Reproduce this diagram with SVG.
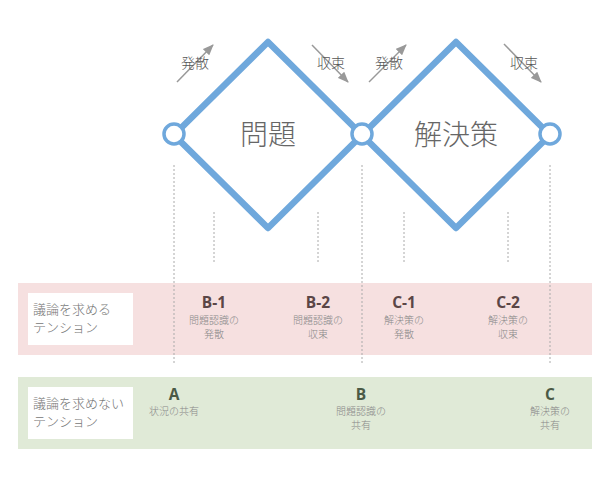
<svg xmlns="http://www.w3.org/2000/svg" width="610" height="486" viewBox="0 0 610 486">
<defs>
<marker id="ah" markerWidth="11" markerHeight="9" refX="10" refY="4.5" orient="auto" markerUnits="userSpaceOnUse">
<path d="M0,0 L11,4.5 L0,9 Z" fill="#999"/>
</marker>
<style>
.dia{fill:none;stroke:#6fa8dc;stroke-width:6.5;stroke-linejoin:round}
.node{fill:#fff;stroke:#6fa8dc;stroke-width:3.5}
.big{font-family:"Noto Sans CJK JP","Noto Sans",sans-serif;font-weight:300;font-size:28px;fill:#666;text-anchor:middle}
.arr{stroke:#999;stroke-width:1.5;fill:none;marker-end:url(#ah)}
.dir{font-family:"Noto Sans CJK JP",sans-serif;font-weight:300;font-size:14px;fill:#555;text-anchor:middle}
.dot{stroke:#aaa;stroke-width:1;stroke-dasharray:2,2}
.lbl{font-family:"Noto Sans CJK JP",sans-serif;font-weight:300;font-size:13px;fill:#777}
.code{font-family:"Open Sans","Noto Sans",sans-serif;font-weight:700;font-size:15.5px;text-anchor:middle}
.sub{font-family:"Noto Sans CJK JP",sans-serif;font-weight:300;font-size:10px;fill:#888;text-anchor:middle}
</style>
</defs>
<rect width="610" height="486" fill="#fff"/>
<g id="bands">
<rect x="18" y="283" width="574" height="72" fill="#f6e0e0"/>
<rect x="18" y="377" width="574" height="72" fill="#e0ead7"/>
<rect x="28" y="293" width="105" height="52" fill="#fff"/>
<rect x="28" y="387" width="105" height="52" fill="#fff"/>
<text class="lbl" x="33" y="314">議論を求める</text>
<text class="lbl" x="33" y="332">テンション</text>
<text class="lbl" x="33" y="408">議論を求めない</text>
<text class="lbl" x="33" y="426">テンション</text>
</g>
<g id="connectors">
<line class="dot" x1="174" y1="165" x2="174" y2="365"/>
<line class="dot" x1="362" y1="165" x2="362" y2="365"/>
<line class="dot" x1="550" y1="165" x2="550" y2="365"/>
<line class="dot" x1="214" y1="212" x2="214" y2="262"/>
<line class="dot" x1="318" y1="212" x2="318" y2="262"/>
<line class="dot" x1="404" y1="212" x2="404" y2="262"/>
<line class="dot" x1="508" y1="212" x2="508" y2="262"/>
<line class="arr" x1="177" y1="82" x2="213" y2="45"/>
<line class="arr" x1="312" y1="45" x2="348" y2="82"/>
<line class="arr" x1="369" y1="82" x2="406" y2="45"/>
<line class="arr" x1="504" y1="44" x2="541" y2="82"/>
</g>
<g id="mondai">
<path class="dia" d="M268,42 L362,135 L268,228 L174,135 Z"/>
<text class="big" x="268" y="145">問題</text>
</g>
<g id="kaiketsusaku">
<path class="dia" d="M456,42 L550,135 L456,228 L362,135 Z"/>
<text class="big" x="456" y="145">解決策</text>
</g>
<g id="nodes">
<circle class="node" cx="174" cy="134" r="10"/>
<circle class="node" cx="362" cy="134" r="10"/>
<circle class="node" cx="550" cy="134" r="10"/>
</g>
<g id="dir-labels">
<text class="dir" x="195" y="68">発散</text>
<text class="dir" x="331" y="68">収束</text>
<text class="dir" x="389" y="68">発散</text>
<text class="dir" x="524" y="68">収束</text>
</g>
<g id="b1"><text class="code" x="214" y="308" fill="#5b4646">B-1</text><text class="sub" x="214" y="324">問題認識の</text><text class="sub" x="214" y="338">発散</text></g>
<g id="b2"><text class="code" x="318" y="308" fill="#5b4646">B-2</text><text class="sub" x="318" y="324">問題認識の</text><text class="sub" x="318" y="338">収束</text></g>
<g id="c1"><text class="code" x="404" y="308" fill="#5b4646">C-1</text><text class="sub" x="404" y="324">解決策の</text><text class="sub" x="404" y="338">発散</text></g>
<g id="c2"><text class="code" x="508" y="308" fill="#5b4646">C-2</text><text class="sub" x="508" y="324">解決策の</text><text class="sub" x="508" y="338">収束</text></g>
<g id="a"><text class="code" x="174" y="400" fill="#4b5a46">A</text><text class="sub" x="174" y="415">状況の共有</text></g>
<g id="b"><text class="code" x="361" y="400" fill="#4b5a46">B</text><text class="sub" x="361" y="415">問題認識の</text><text class="sub" x="361" y="429">共有</text></g>
<g id="c"><text class="code" x="550" y="400" fill="#4b5a46">C</text><text class="sub" x="550" y="415">解決策の</text><text class="sub" x="550" y="429">共有</text></g>
</svg>
